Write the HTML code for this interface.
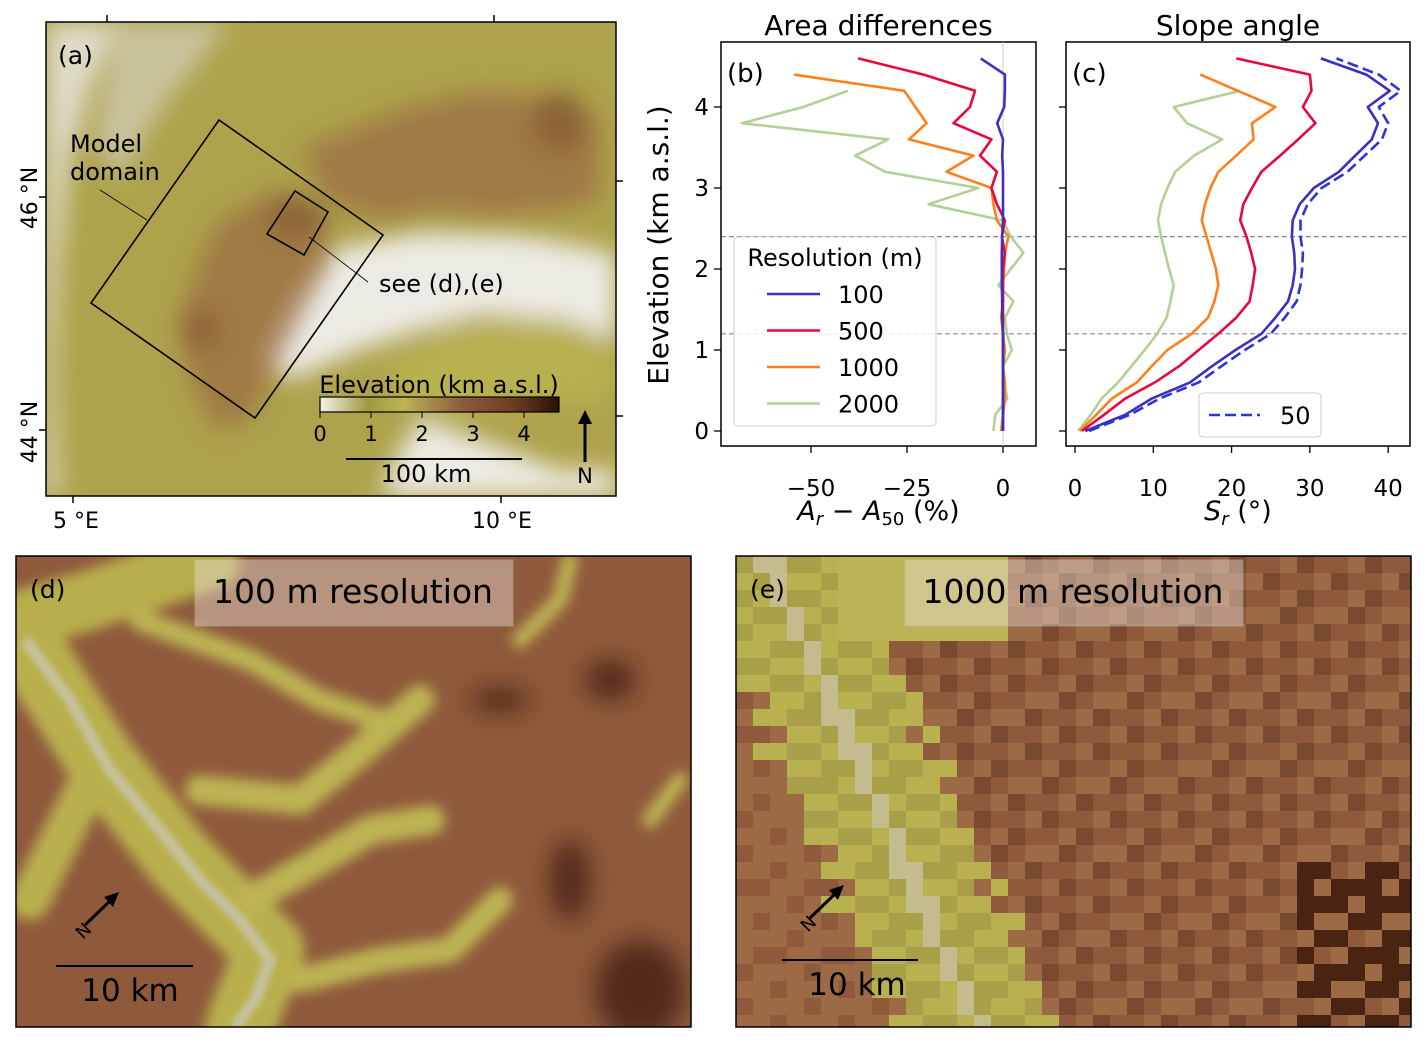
<!DOCTYPE html>
<html><head><meta charset="utf-8"><style>
body{margin:0;background:#fff;}
svg{display:block;font-family:"DejaVu Sans","Liberation Sans",sans-serif;}
</style></head><body>
<svg width="1427" height="1044" viewBox="0 0 1427 1044">
<defs>
<filter id="b6"><feGaussianBlur stdDeviation="6"/></filter>
<filter id="b3"><feGaussianBlur stdDeviation="3"/></filter>
<filter id="b12"><feGaussianBlur stdDeviation="12"/></filter>
<clipPath id="ca"><rect x="46" y="22" width="570" height="474"/></clipPath>
<clipPath id="cd"><rect x="16" y="556" width="675" height="471"/></clipPath>
<clipPath id="ce"><rect x="736" y="556" width="675" height="471"/></clipPath>
<linearGradient id="cbar" x1="0" x2="1" y1="0" y2="0">
<stop offset="0" stop-color="#f4f2ea"/><stop offset="0.2" stop-color="#a09a40"/><stop offset="0.35" stop-color="#bcb455"/><stop offset="0.6" stop-color="#8c5a3c"/><stop offset="0.8" stop-color="#6e3e26"/><stop offset="1" stop-color="#2a1206"/></linearGradient>
</defs>

<!-- Panel a map -->
<g clip-path="url(#ca)">
<rect x="46" y="22" width="570" height="474" fill="#aea24c"/>
<g filter="url(#b12)">
<path d="M46 22 L120 22 L90 90 L70 160 L60 260 L55 380 L60 496 L46 496Z" fill="#dedbc8"/>
<path d="M120 22 L230 22 L200 60 L160 110 L120 180 L95 140 Z" fill="#c9c39c"/>
<path d="M330 250 L420 232 L520 235 L600 250 L616 255 L616 340 L560 320 L480 315 L420 330 L360 350 L290 380 L260 360 L290 300 Z" fill="#ecebe3"/>
<path d="M420 420 L480 440 L560 470 L616 470 L616 496 L380 496 L400 450 Z" fill="#ecebe3"/>
<path d="M380 370 L450 330 L540 320 L616 345 L616 400 L560 400 L480 410 L420 420 Z" fill="#b9b050"/>
</g>
<g filter="url(#b12)" fill="#96603f" opacity="0.6">
<path d="M300 150 L400 110 L480 90 L560 100 L600 120 L600 200 L560 210 L500 215 L430 210 L380 220 L330 200 Z"/>
<path d="M220 220 L280 190 L320 220 L330 260 L300 320 L270 380 L250 420 L215 430 L190 380 L180 320 L200 260 Z"/>
</g>
<g filter="url(#b12)" fill="#6a3a22" opacity="0.4">
<ellipse cx="300" cy="215" rx="30" ry="20"/><ellipse cx="560" cy="120" rx="25" ry="30"/><ellipse cx="200" cy="330" rx="15" ry="20"/>
</g>
</g>
<rect x="46" y="22" width="570" height="474" fill="none" stroke="#000" stroke-width="1.5"/>
<g stroke="#000" stroke-width="1.5">
<line x1="107" y1="22" x2="107" y2="15"/><line x1="494" y1="22" x2="494" y2="15"/>
<line x1="73" y1="496" x2="73" y2="503"/><line x1="501" y1="496" x2="501" y2="503"/>
<line x1="46" y1="197" x2="39" y2="197"/><line x1="46" y1="430" x2="39" y2="430"/>
<line x1="616" y1="181" x2="623" y2="181"/><line x1="616" y1="416" x2="623" y2="416"/>
</g>
<text x="76" y="528" font-size="22" text-anchor="middle">5 °E</text>
<text x="502" y="528" font-size="22" text-anchor="middle">10 °E</text>
<text transform="translate(37,198) rotate(-90)" font-size="22" text-anchor="middle">46 °N</text>
<text transform="translate(37,432) rotate(-90)" font-size="22" text-anchor="middle">44 °N</text>
<text x="58" y="64" font-size="25">(a)</text>
<polygon points="219,120 383,235 255,418 91,303" fill="none" stroke="#000" stroke-width="1.6"/>
<polygon points="295,191 328,212 304,255 267,234" fill="none" stroke="#000" stroke-width="1.6"/>
<line x1="100" y1="190" x2="147" y2="220" stroke="#000" stroke-width="0.8"/>
<line x1="309" y1="237" x2="368" y2="282" stroke="#000" stroke-width="0.8"/>
<text x="70" y="152" font-size="24">Model</text>
<text x="70" y="180" font-size="24">domain</text>
<text x="379" y="292" font-size="24">see (d),(e)</text>
<text x="439" y="393" font-size="24" text-anchor="middle">Elevation (km a.s.l.)</text>
<rect x="320" y="397" width="239" height="15" fill="url(#cbar)" stroke="#000" stroke-width="1.2"/>
<g font-size="21" text-anchor="middle">
<line x1="320" y1="412" x2="320" y2="418" stroke="#000"/><text x="320" y="441">0</text>
<line x1="371" y1="412" x2="371" y2="418" stroke="#000"/><text x="371" y="441">1</text>
<line x1="422" y1="412" x2="422" y2="418" stroke="#000"/><text x="422" y="441">2</text>
<line x1="473" y1="412" x2="473" y2="418" stroke="#000"/><text x="473" y="441">3</text>
<line x1="524" y1="412" x2="524" y2="418" stroke="#000"/><text x="524" y="441">4</text>
</g>
<line x1="346" y1="459" x2="522" y2="459" stroke="#000" stroke-width="2"/>
<text x="426" y="482" font-size="24" text-anchor="middle">100 km</text>
<g>
<line x1="585" y1="462" x2="585" y2="420" stroke="#000" stroke-width="3"/>
<polygon points="585,410 578,424 592,424" fill="#000"/>
<text x="585" y="483" font-size="21" text-anchor="middle">N</text>
</g>

<g id="pb"></g>
<g id="pc"></g>

<!-- Panel d -->
<g clip-path="url(#cd)">
<rect x="16" y="556" width="675" height="471" fill="#8f5a3c"/>
<g filter="url(#b6)" fill="none" stroke-linecap="round" stroke-linejoin="round">
<path d="M20 620 L90 600 L150 580 L210 560" stroke="#b8ad4c" stroke-width="60"/>
<path d="M30 650 L100 760 L180 860 L270 950 L240 1027" stroke="#b9b04e" stroke-width="70"/>
<path d="M100 760 L30 900" stroke="#b9b04e" stroke-width="40"/>
<path d="M140 620 L250 660 L320 700 L380 720" stroke="#bdb452" stroke-width="22"/>
<path d="M200 790 L300 800 L350 760 L420 700" stroke="#bdb452" stroke-width="30"/>
<path d="M250 900 L320 860 L370 830 L430 820" stroke="#bdb452" stroke-width="30"/>
<path d="M300 980 L380 960 L450 950 L500 900" stroke="#bdb452" stroke-width="26"/>
<path d="M570 560 L560 600 L520 640" stroke="#bdb452" stroke-width="16"/>
<path d="M680 780 L650 820" stroke="#bdb452" stroke-width="16"/>
</g>
<path d="M25 640 L70 700 L110 770 L160 830 L200 880 L240 920 L270 960 L255 1000 L235 1027" fill="none" stroke="#c6c09a" stroke-width="12" filter="url(#b3)"/>
<g filter="url(#b12)" fill="#4a2412" opacity="0.85">
<ellipse cx="640" cy="990" rx="45" ry="50"/><ellipse cx="570" cy="880" rx="20" ry="40"/><ellipse cx="610" cy="680" rx="25" ry="20"/><ellipse cx="500" cy="700" rx="30" ry="12"/>
</g>
</g>
<rect x="16" y="556" width="675" height="471" fill="none" stroke="#000" stroke-width="1.5"/>
<rect x="195" y="560" width="318" height="66" fill="#e8dcd0" opacity="0.45" stroke="#ccc"/>
<text x="353" y="603" font-size="33" text-anchor="middle">100 m resolution</text>
<text x="30" y="598" font-size="25">(d)</text>
<g>
<line x1="85" y1="925" x2="113" y2="898" stroke="#000" stroke-width="3"/><polygon points="119,892 104,897 113,907" fill="#000"/>
<text x="78" y="942" font-size="18" transform="rotate(-45 78 935)">N</text></g>
<line x1="56" y1="966" x2="193" y2="966" stroke="#000" stroke-width="2"/>
<text x="130" y="1001" font-size="31" text-anchor="middle">10 km</text>

<!-- Panel e -->
<g clip-path="url(#ce)">
<rect x="736" y="556" width="675" height="471" fill="#8f5a3c"/>
<g id="epix"></g>
</g>
<rect x="736" y="556" width="675" height="471" fill="none" stroke="#000" stroke-width="1.5"/>
<rect x="905" y="560" width="338" height="66" fill="#e8dcd0" opacity="0.45" stroke="#ccc"/>
<text x="1073" y="603" font-size="33" text-anchor="middle">1000 m resolution</text>
<text x="750" y="598" font-size="25">(e)</text>
<g>
<line x1="810" y1="918" x2="838" y2="891" stroke="#000" stroke-width="3"/><polygon points="844,885 829,890 838,900" fill="#000"/>
<text x="803" y="935" font-size="18" transform="rotate(-45 803 928)">N</text></g>
<line x1="782" y1="960" x2="918" y2="960" stroke="#000" stroke-width="2"/>
<text x="857" y="995" font-size="31" text-anchor="middle">10 km</text>
</svg>
<script>
// ---- Panel b data ----
const elevB100 = [0,0.2,0.4,0.6,0.8,1.0,1.2,1.4,1.6,1.8,2.0,2.2,2.4,2.6,2.8,3.0,3.2,3.4,3.6,3.8,4.0,4.2,4.4,4.6];
const areaB100 = [0,0,0,0,0,0,0,-0.2,-0.2,-0.3,-0.3,-0.3,-0.2,0,0,0,0,-0.2,0,-1.5,0.3,0.5,0.5,-5.8];
const areaB500 = [0,0,0,0,0,0,0,0,0,0,0,0.5,-0.3,0.5,-1.6,-3,-1.6,-6,-3,-12.9,-8.6,-7.3,-20.7,-37.7];
const elevB1000 = [0,0.2,0.4,0.6,0.8,1.0,1.2,1.4,1.6,1.8,2.0,2.2,2.4,2.6,2.8,3.0,3.2,3.4,3.6,3.8,4.0,4.2,4.4];
const areaB1000 = [-0.5,0,0.5,0.5,0,0.5,0,-0.5,0,0,0.3,0.5,1.4,-1.6,-2.5,-3,-14.7,-7.7,-24.5,-19.9,-22.8,-25.7,-54.4];
const elevB2000 = [0,0.2,0.4,0.6,0.8,1.0,1.2,1.4,1.6,1.8,2.0,2.2,2.4,2.6,2.8,3.0,3.2,3.4,3.6,3.8,4.0,4.2];
const areaB2000 = [-2.5,-2,1.1,0.3,0,2.3,1,0.5,2.7,-1.2,2,5.3,2,0,-19.4,-6.4,-30.7,-38.5,-29.9,-68,-52,-40.4];
const xTicksB = [-50,-25,0];
const yTicks = [0,1,2,3,4];
// ---- Panel c data ----
const slopeC50 = [1.8,7,10.8,15.8,18.7,21.7,25,26.8,28.3,28.8,29,29.1,28.8,28.8,29.7,31.5,34.8,37,39.2,40,38.8,41.6,38.8,33.4];
const slopeC100 = [1.3,6.4,9.8,14.7,17.5,20.5,23.8,25.6,27.2,27.8,28.1,28,27.7,27.8,28.7,30.5,33.7,35.8,37.9,38.7,37.4,40.2,37.2,31.4];
const slopeC500 = [0.9,3.7,6.4,10.2,13.3,15.8,18.3,20.6,22.3,22.7,23,22.5,21.9,21.1,21.5,22.6,23.8,26.2,28.5,30.7,29.1,30.2,30,20.6];
const slopeC1000 = [0.6,2.7,4.7,7.9,9.8,11.8,14.9,17,17.8,18.3,18,17.4,16.8,16.2,16.6,17.3,18.3,20.6,22.8,22.6,25.6,20.8,16];
const slopeC2000 = [0.4,2,3.4,5.5,7.2,8.9,10.5,11.7,12.2,12.6,12,11.5,11,10.6,11,11.8,12.8,15.2,18.8,14.3,12.6,21.1];
const xTicksC = [0,10,20,30,40];
const refLines = [1.2,2.4];

const NS='http://www.w3.org/2000/svg';
function mk(tag, attrs, parent){const e=document.createElementNS(NS,tag);for(const k in attrs)e.setAttribute(k,attrs[k]);parent.appendChild(e);return e;}
const yS = v => 431 - v*81;
const xB = v => 1003 + v*3.84;
const xC = v => 1075 + v*7.83;
const COL={c50:'#2b35d6',c100:'#3f2fc0',c500:'#e8083e',c1000:'#ff7f1e',c2000:'#b2d196'};

function axes(g, x0, x1, xs, ticks, xlabel, title, labelTxt, showY){
  refLines.forEach(r=>{const l=mk('line',{x1:x0,x2:x1,y1:yS(r),y2:yS(r),stroke:'#888','stroke-dasharray':'5,3','stroke-width':1.2},g);
    
    });
  const fr=mk('rect',{x:x0,y:42,width:x1-x0,height:404,fill:'none',stroke:'#000','stroke-width':1.5},g);
  
  
  ticks.forEach(t=>{const X=xs(t);mk('line',{x1:X,x2:X,y1:446,y2:453,stroke:'#000','stroke-width':1.3},g);
    const tx=mk('text',{x:X,y:496,'font-size':23,'text-anchor':'middle'},g);tx.textContent=t<0?'\u2212'+(-t):t;
    
    });
  yTicks.forEach(t=>{const Y=yS(t);mk('line',{x1:x0,x2:x0-7,y1:Y,y2:Y,stroke:'#000','stroke-width':1.3},g);
    if(showY){const tx=mk('text',{x:x0-12,y:Y+8,'font-size':23,'text-anchor':'end'},g);tx.textContent=t;
    
    }});
  const ti=mk('text',{x:(x0+x1)/2,y:35,'font-size':28,'text-anchor':'middle'},g);ti.textContent=title;
  
  
  const lb=mk('text',{x:x0+6,y:82,'font-size':26},g);lb.textContent=labelTxt;
  
  
  const xl=mk('text',{x:(x0+x1)/2,y:520,'font-size':27,'text-anchor':'middle'},g);xl.innerHTML=xlabel;
  
  
}
function line(g, xs, vals, elev, col, dash, name){
  const d=vals.map((v,i)=>(i?'L':'M')+xs(v).toFixed(1)+' '+yS(elev[i]).toFixed(1)).join(' ');
  const p=mk('path',{d:d,fill:'none',stroke:col,'stroke-width':2.6,'stroke-linejoin':'round'},g);
  if(dash)p.setAttribute('stroke-dasharray','11,5');
  
  
}
const pb=document.getElementById('pb');
axes(pb,721,1036,xB,xTicksB,'<tspan font-style="italic">A</tspan><tspan font-style="italic" font-size="18" dy="5">r</tspan><tspan dy="-5"> \u2212 </tspan><tspan font-style="italic">A</tspan><tspan font-size="18" dy="5">50</tspan><tspan dy="-5"> (%)</tspan>','Area differences','(b)',true);
mk('line',{x1:xB(0),x2:xB(0),y1:42,y2:446,stroke:'#ccc','stroke-width':1},pb);
line(pb,xB,areaB2000,elevB2000,COL.c2000,false,'line-2000m');
line(pb,xB,areaB1000,elevB1000,COL.c1000,false,'line-1000m');
line(pb,xB,areaB500,elevB100,COL.c500,false,'line-500m');
line(pb,xB,areaB100,elevB100,COL.c100,false,'line-100m');
const yl=mk('text',{transform:'translate(668,245) rotate(-90)','font-size':28,'text-anchor':'middle'},pb);yl.textContent='Elevation (km a.s.l.)';


const lg=mk('g',{},pb);


mk('rect',{x:734,y:237,width:202,height:189,rx:4,fill:'#fff','fill-opacity':0.85,stroke:'#ccc'},lg);
mk('text',{x:835,y:266,'font-size':24,'text-anchor':'middle'},lg).textContent='Resolution (m)';
[['100',COL.c100],['500',COL.c500],['1000',COL.c1000],['2000',COL.c2000]].forEach((r,i)=>{const Y=294+i*36.5;
  mk('line',{x1:767,x2:820,y1:Y,y2:Y,stroke:r[1],'stroke-width':2.6},lg);
  mk('text',{x:838,y:Y+9,'font-size':24},lg).textContent=r[0];});

const pc=document.getElementById('pc');
axes(pc,1066,1410,xC,xTicksC,'<tspan font-style="italic">S</tspan><tspan font-style="italic" font-size="18" dy="5">r</tspan><tspan dy="-5"> (°)</tspan>','Slope angle','(c)',false);
line(pc,xC,slopeC2000,elevB2000,COL.c2000,false,'slope-2000m');
line(pc,xC,slopeC1000,elevB1000,COL.c1000,false,'slope-1000m');
line(pc,xC,slopeC500,elevB100,COL.c500,false,'slope-500m');
line(pc,xC,slopeC100,elevB100,COL.c100,false,'slope-100m');
line(pc,xC,slopeC50,elevB100,COL.c50,true,'slope-50m');
const lc=mk('g',{},pc);


mk('rect',{x:1199,y:393,width:122,height:44,rx:4,fill:'#fff',stroke:'#ccc'},lc);
mk('line',{x1:1209,x2:1260,y1:415,y2:415,stroke:COL.c50,'stroke-width':2.6,'stroke-dasharray':'11,5'},lc);
mk('text',{x:1280,y:424,'font-size':24},lc).textContent='50';

// panel e pixel texture (illustrative terrain, not chart data)
const ep=document.getElementById('epix');
const cw=17, chh=17;
for(let j=0;j<28;j++){for(let i=0;i<40;i++){
  const x=736+i*cw, y=556+j*chh;
  const cx=i*cw, cy=j*chh;
  const vx=25+cy*0.45;
  const dist=Math.abs(cx-vx);
  const h=((i*73+j*151)%97)/97;
  let col;
  if(dist<10) col='#c4bc8e';
  else if(dist<60+ (h*40) && cx<330) col=h>0.5?'#b9b050':'#a89f48';
  else if(cx<120 && h>0.6) col='#9c6a44';
  else if(cx>560 && cy>300 && h>0.4) col='#4a2412';
  else col=h>0.75?'#7a4a30':(h>0.3?'#8f5a3c':'#9d6a46');
  if(cy<80 && cx<260 && cx>100) col='#bcb356';
  mk('rect',{x:x,y:y,width:cw+0.5,height:chh+0.5,fill:col},ep);
}}
</script>
</body></html>
